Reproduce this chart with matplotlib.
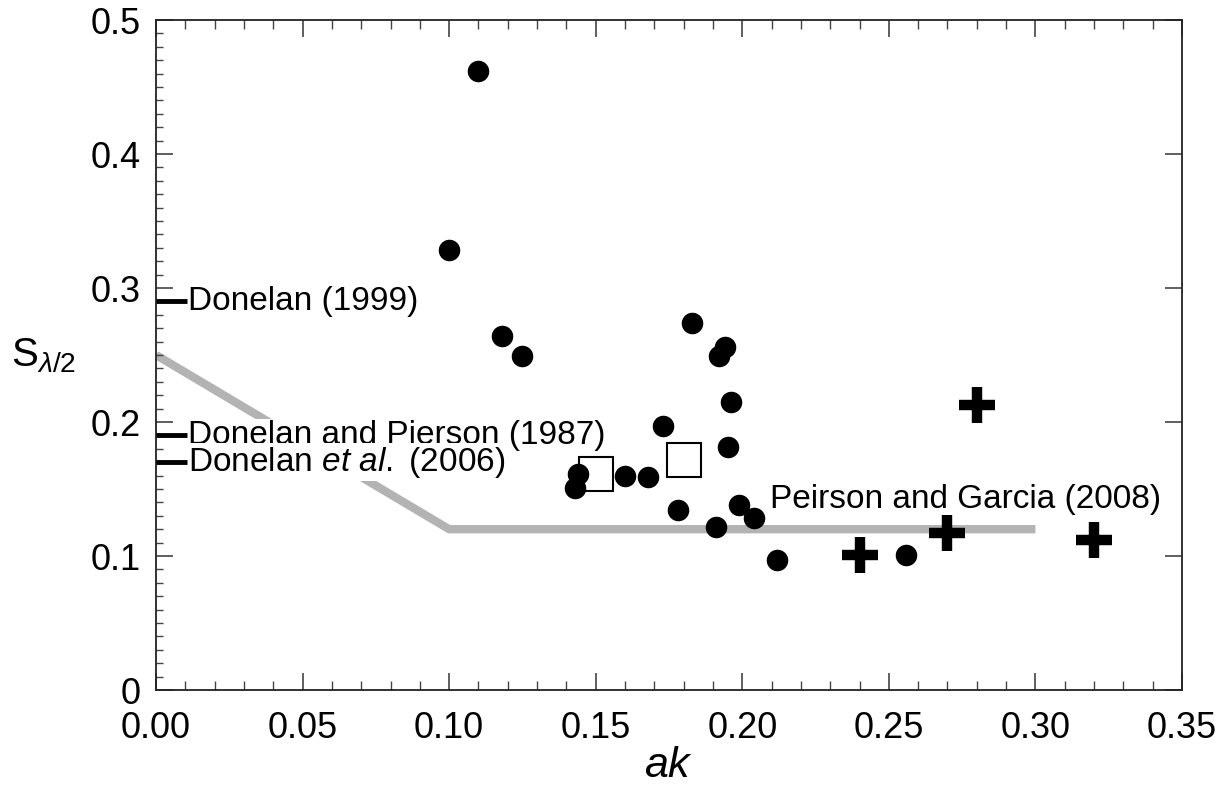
import matplotlib
matplotlib.use("Agg")
import matplotlib.pyplot as plt
from matplotlib.ticker import MultipleLocator

plt.rcParams['font.family'] = ['Liberation Sans', 'DejaVu Sans']
plt.rcParams['mathtext.fontset'] = 'custom'
plt.rcParams['mathtext.rm'] = 'Liberation Sans'
plt.rcParams['mathtext.it'] = 'Liberation Sans:italic'

# Data
circle_x = [0.110, 0.100, 0.118, 0.125, 0.183, 0.192, 0.194, 0.196, 0.195, 0.173,
            0.144, 0.143, 0.160, 0.168, 0.178, 0.199, 0.204, 0.191, 0.212, 0.256]
circle_y = [0.462, 0.328, 0.264, 0.249, 0.274, 0.249, 0.256, 0.215, 0.181, 0.197,
            0.161, 0.151, 0.160, 0.159, 0.134, 0.138, 0.128, 0.122, 0.097, 0.101]
square_x = [0.150, 0.180]
square_y = [0.161, 0.172]
plus_x = [0.240, 0.270, 0.280, 0.320]
plus_y = [0.101, 0.117, 0.213, 0.112]
gray_x = [0.0, 0.10, 0.30]
gray_y = [0.25, 0.12, 0.12]
ref_labels = ["Donelan (1999)", "Donelan and Pierson (1987)",
              r"Donelan $\mathit{et\ al.}$ (2006)"]
ref_values = [0.29, 0.19, 0.17]
pg_label = "Peirson and Garcia (2008)"
xticks = [0.00, 0.05, 0.10, 0.15, 0.20, 0.25, 0.30, 0.35]
xtick_labels = ["0.00", "0.05", "0.10", "0.15", "0.20", "0.25", "0.30", "0.35"]
yticks = [0, 0.1, 0.2, 0.3, 0.4, 0.5]
ytick_labels = ["0", "0.1", "0.2", "0.3", "0.4", "0.5"]

fig = plt.figure(figsize=(12.26, 7.96), dpi=100)
ax = fig.add_axes([156/1226, 1 - 690/796, (1182-156)/1226, (690-20)/796])

ax.plot(gray_x, gray_y, color='#b3b3b3', lw=6, solid_capstyle='butt', zorder=1)

for lab, v in zip(ref_labels, ref_values):
    ax.plot([0.0, 0.0105], [v, v], color='black', lw=3.5, solid_capstyle='butt', zorder=4)
    ax.text(0.0108, v, lab, fontsize=24, va='center', ha='left', zorder=3,
            bbox=dict(facecolor='white', edgecolor='none', pad=1.0))

ax.text(0.2095, 0.142, pg_label, fontsize=24, va='center', ha='left', zorder=3)

ax.plot(circle_x, circle_y, 'o', color='black', ms=14.5, zorder=5, clip_on=False)
ax.plot(square_x, square_y, 's', mfc='none', mec='black', mew=1.5, ms=24.5, zorder=5)
ax.plot(plus_x, plus_y, '+', color='black', mew=7.5, ms=26, zorder=5)

ax.set_xlim(0, 0.35)
ax.set_ylim(0, 0.5)
ax.set_xticks(xticks)
ax.set_xticklabels(xtick_labels)
ax.set_yticks(yticks)
ax.set_yticklabels(ytick_labels)
ax.xaxis.set_minor_locator(MultipleLocator(0.01))
ax.yaxis.set_minor_locator(MultipleLocator(0.01))

ax.tick_params(axis='both', which='major', direction='in', length=12, width=1.2,
               labelsize=26, color='#444444')
ax.tick_params(axis='x', which='major', top=True, pad=15)
ax.tick_params(axis='y', which='major', right=True, pad=11)
ax.tick_params(axis='x', which='minor', direction='in', length=6.5, width=1.0,
               top=True, color='#444444')
ax.tick_params(axis='y', which='minor', direction='in', length=5, width=1.0,
               left=True, right=False, color='#444444')
for s in ax.spines.values():
    s.set_linewidth(1.3)
    s.set_color('#222222')

ax.set_xlabel(r"$\mathit{ak}$", fontsize=31, labelpad=0)
ax.set_ylabel(r"$\mathrm{S}_{\lambda/2}$", fontsize=29, rotation=0)
ax.yaxis.set_label_coords(-0.11, 0.47)

fig.savefig("out.png", dpi=100)
